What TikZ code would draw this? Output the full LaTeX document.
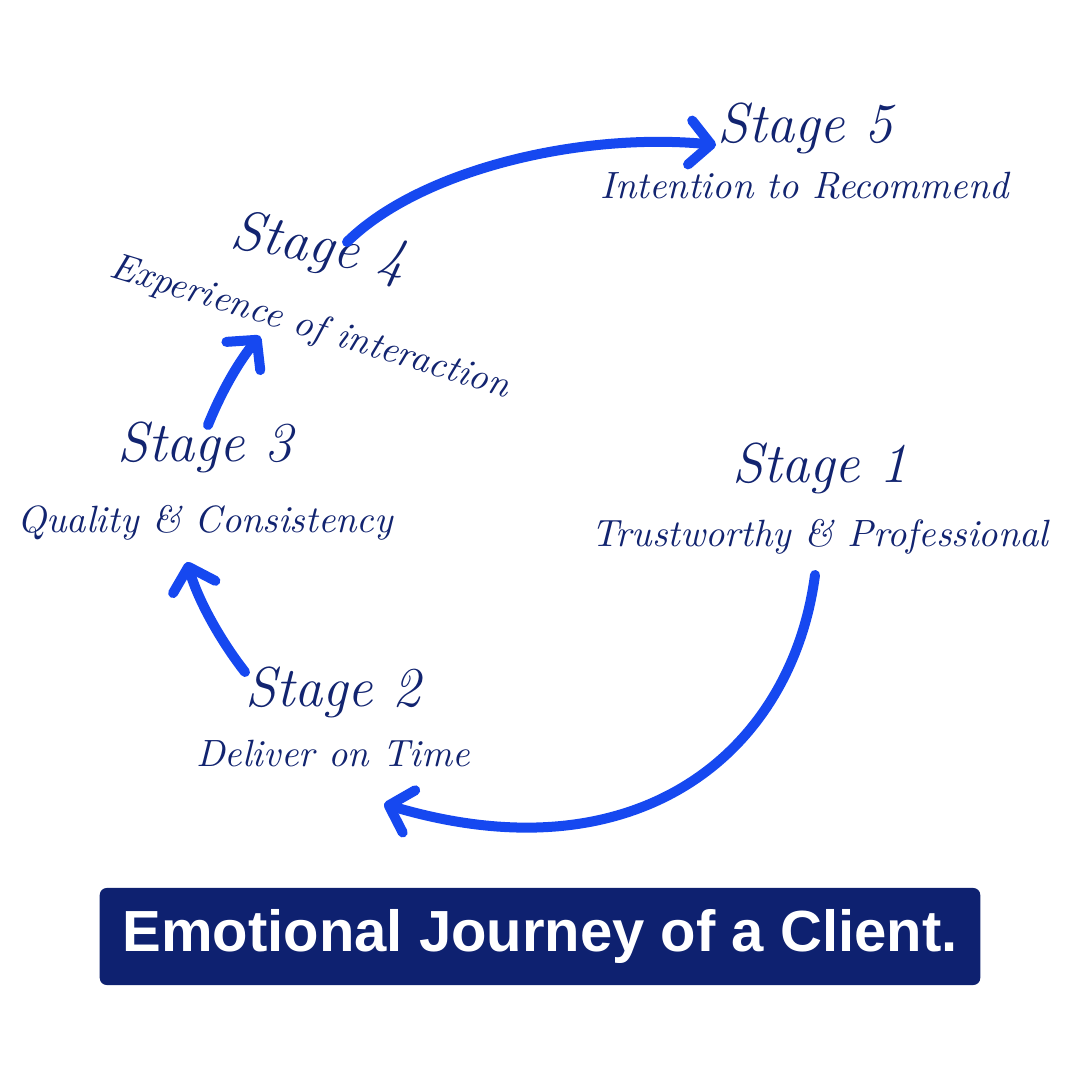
\documentclass[tikz,border=0pt]{standalone}
\usepackage{fontspec}
\usepackage{tikz}
\usetikzlibrary{positioning,arrows.meta}
\usepackage{xcolor}
\newfontfamily\headfont{Liberation Sans}
\definecolor{journeyblue}{RGB}{22,72,240}
\definecolor{inknavy}{RGB}{18,36,112}
\definecolor{boxnavy}{RGB}{14,33,112}

\begin{document}
\begin{tikzpicture}[
    x=0.01cm, y=0.01cm,
    stage/.style={text=inknavy, inner sep=1pt,
                  font=\fontsize{16}{18}\selectfont\itshape},
    sub/.style={text=inknavy, inner sep=1pt,
                font=\fontsize{10.8}{13}\selectfont\itshape},
    flow/.style={draw=journeyblue, line width=0.1cm, line cap=round,
                 -{Straight Barb[round,length=2.1mm,width=4.4mm]}},
    titlebox/.style={rectangle, rounded corners=2pt, fill=boxnavy,
                     text=white, minimum width=8.8cm, minimum height=0.97cm,
                     font=\headfont\bfseries\fontsize{16.5}{20}\selectfont}
]
\useasboundingbox (0,0) rectangle (1080,1080);

% stages
\node[stage] (s1) at (820,612) {Stage 1};
\node[sub, below=5pt of s1] (t1) {Trustworthy \& Professional};

\node[stage] (s2) at (333,388) {Stage 2};
\node[sub, below=4pt of s2] (t2) {Deliver on Time};

\node[stage] (s3) at (205,633) {Stage 3};
\node[sub, below=7pt of s3] (t3) {Quality \& Consistency};

\node[stage, rotate=-10, inner sep=0pt] (s4) at (319,831) {Stage 4};
\node[sub, rotate=-17, inner sep=0pt] (t4) at (310,752) {Experience of interaction};

\node[stage] (s5) at (805,952) {Stage 5};
\node[sub, below=3pt of s5] (t5) {Intention to Recommend};

% arrow ends
\coordinate (a1) at (815,505);
\coordinate (b2) at (384,276);
\coordinate (a2) at (245,408);
\coordinate (b3) at (187,518);
\coordinate (a3) at (208,655);
\coordinate (b4) at (260,744);
\coordinate (a4) at (347,838);
\coordinate (b5) at (716,935);

\draw[flow] (a1) .. controls (792,330) and (640,200) .. (b2);
\draw[flow] (a2) .. controls (220,440) and (198,480) .. (b3);
\draw[flow] (a3) .. controls (222,690) and (240,720) .. (b4);
\draw[flow] (a4) .. controls (420,910) and (580,948) .. (b5);

\node[titlebox] (title) at (540,143.5) {Emotional Journey of a Client.};

\end{tikzpicture}
\end{document}
